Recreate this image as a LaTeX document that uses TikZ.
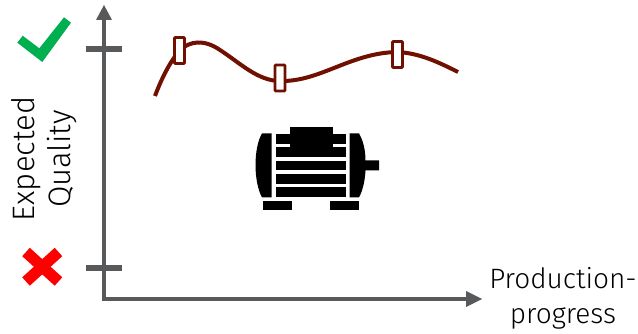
\documentclass[tikz,border=0pt]{standalone}
\usepackage{fontspec}
\setmainfont{Fira Sans Light}
\definecolor{axisgrey}{HTML}{58595B}
\definecolor{curvered}{HTML}{701000}
\definecolor{checkgreen}{HTML}{00B050}
\tikzset{
  axisline/.style={draw=axisgrey,line width=3.8pt},
  tickline/.style={draw=axisgrey,line width=6pt},
  axishead/.style={fill=axisgrey,draw=none},
  curveline/.style={draw=curvered,line width=4pt},
  marker box/.style={draw=curvered,line width=2.6pt,fill=white,rounded corners=0.8pt,minimum width=10pt,minimum height=26pt,inner sep=0pt,outer sep=0pt},
  label text/.style={align=center,inner sep=0pt,text=black},
  motor/.style={fill=black,draw=none}
}
\begin{document}
\begin{tikzpicture}[x=1pt,y=-1pt]
\useasboundingbox (0,0) rectangle (638,334);
% axes
\coordinate (origin) at (104,299);
\coordinate (ytop) at (104,18);
\coordinate (xend) at (468,299);
\coordinate (tickhiL) at (86,49);
\coordinate (tickhiR) at (122,49);
\coordinate (tickloL) at (86,268);
\coordinate (tickloR) at (122,268);
\draw[axisline,line join=miter] (ytop) -- (origin) -- (xend);
\fill[axishead] (104,5) -- (112,20) -- (96,20) -- cycle;
\fill[axishead] (482,299) -- (466,291) -- (466,307) -- cycle;
\draw[tickline] (tickhiL) -- (tickhiR);
\draw[tickline] (tickloL) -- (tickloR);
% check and cross
\fill[checkgreen] (17.3,42.7) -- (22.7,35.7) -- (39.3,48.3) -- (64,17.3) -- (71,22.7) -- (42.3,62) -- cycle;
\draw[red,line width=11.3pt] (26,252) -- (58.5,281.5);
\draw[red,line width=11.3pt] (26,281.5) -- (58.5,252);
% curve
\coordinate (cstart) at (155,96);
\coordinate (cend) at (458,72);
\coordinate (p1) at (180,50);
\coordinate (p2) at (280,81);
\coordinate (p3) at (397,52);
\draw[curveline] (cstart) .. controls (161,80) and (169,63) .. (p1)
  .. controls (190,41) and (204,39) .. (220,50)
  .. controls (240,63) and (258,81) .. (p2)
  .. controls (320,82) and (350,53) .. (p3)
  .. controls (420,53) and (440,63) .. (cend);
\node[marker box] (m1) at (179.5,50.5) {};
\node[marker box] (m2) at (280,78) {};
\node[marker box] (m3) at (397.5,54.5) {};
% motor
\fill[motor] (271.5,133.5) -- (262,133.5) .. controls (258,140) and (255.5,152) .. (255.5,165) .. controls (255.5,178) and (258,190) .. (262,197.5) -- (271.5,197.5) -- cycle;
\fill[motor] (349.5,133.5) -- (359,133.5) .. controls (363,140) and (365.5,150) .. (365.5,160.5) -- (379,160.5) -- (379,170.5) -- (365.5,170.5) .. controls (365,180) and (363,190) .. (359,197.5) -- (349.5,197.5) -- cycle;
\fill[motor] (289.5,127.5) rectangle (332.5,156);
\fill[motor] (275.5,134.5) rectangle (345.5,143.8);
\fill[motor] (275.5,147.5) rectangle (345.5,156.8);
\fill[motor] (275.5,161.2) rectangle (345.5,170.5);
\fill[motor] (275.5,174.5) rectangle (345.5,183.8);
\fill[motor] (275.5,187.5) rectangle (345.5,196.8);
\fill[motor] (263,201.5) rectangle (292,210.5);
\fill[motor] (330,201.5) rectangle (359,210.5);
% labels
\node[label text,font=\fontsize{31}{36}\selectfont,rotate=90] (ylabel) at (44,159) {Expected\\Quality};
\node[label text,font=\fontsize{28}{35}\selectfont] (xlabel) at (563,298) {Production-\\progress};
\end{tikzpicture}
\end{document}
